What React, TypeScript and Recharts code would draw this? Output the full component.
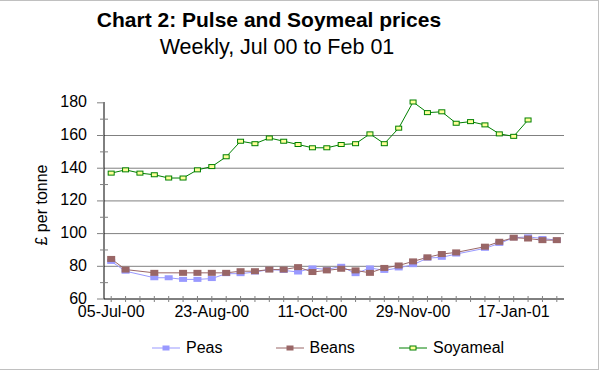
import React from 'react';
import { LineChart, Line, XAxis, YAxis, CartesianGrid } from 'recharts';

const categories = [
  '05-Jul-00', '12-Jul-00', '19-Jul-00', '26-Jul-00', '02-Aug-00', '09-Aug-00', '16-Aug-00',
  '23-Aug-00', '30-Aug-00', '06-Sep-00', '13-Sep-00', '20-Sep-00', '27-Sep-00', '04-Oct-00',
  '11-Oct-00', '18-Oct-00', '25-Oct-00', '01-Nov-00', '08-Nov-00', '15-Nov-00', '22-Nov-00',
  '29-Nov-00', '06-Dec-00', '13-Dec-00', '20-Dec-00', '27-Dec-00', '03-Jan-01', '10-Jan-01',
  '17-Jan-01', '24-Jan-01', '31-Jan-01', '07-Feb-01',
];

const peas: (number | null)[] = [
  83, 77, null, 73, 73, 72, 72, 72.5, 75.5, 75.5, 76.5, 78, 77.5, 76.5, 79, 78,
  80, 75.5, 79, 77.5, 79, 81, 85, 85.5, 87.5, null, 91, 94, 97.5, 98, 97, 96,
];

const beans: (number | null)[] = [
  84.5, 78, null, 76, null, 76, 76, 76, 76, 77, 77, 78, 78, 79.5, 76.5, 77.5,
  78.5, 77.5, 76, 79, 80.5, 83, 85.5, 87.5, 88.5, null, 92, 95, 97.5, 97, 96, 96,
];

const soyameal: (number | null)[] = [
  137, 139, 137, 136, 134, 134, 139, 141, 147, 156.5, 155, 158.5, 156.5, 154.5, 152.5, 152.5,
  154.5, 155, 161, 155, 164.5, 180.5, 174, 174.5, 167.5, 168.5, 166.5, 161, 159.5, 169.5, null, null,
];

const yTicks = [60, 70, 80, 90, 100, 110, 120, 130, 140, 150, 160, 170, 180];
const yLabelTicks = [60, 80, 100, 120, 140, 160, 180];
const gridValues = [80, 100, 120, 140, 160];
const xLabelEvery = 7;

const data = categories.map((date, i) => ({
  date,
  peas: peas[i],
  beans: beans[i],
  soyameal: soyameal[i],
}));

const series = [
  { key: 'peas', name: 'Peas', color: '#9999ff', fill: '#9999ff', border: 'none', w: 8, h: 5, lw: 7, lh: 5 },
  { key: 'beans', name: 'Beans', color: '#996666', fill: '#996666', border: 'none', w: 8, h: 6, lw: 7, lh: 5 },
  { key: 'soyameal', name: 'Soyameal', color: '#008000', fill: '#ffff99', border: '#008000', w: 6, h: 4, lw: 6, lh: 4 },
];

const FONT = '"Liberation Sans", Arial, sans-serif';

const makeDot = (s: any) => (props: any) => {
  const { cx, cy, index } = props;
  if (cx == null || cy == null || props.value == null) return <g key={`d-${s.key}-${index}`} />;
  return (
    <rect
      key={`d-${s.key}-${index}`}
      x={cx - s.w / 2}
      y={cy - s.h / 2}
      width={s.w}
      height={s.h}
      fill={s.fill}
      stroke={s.border === 'none' ? 'none' : s.border}
      strokeWidth={1}
    />
  );
};

const YTick = (props: any) => {
  const { x, y, payload } = props;
  const v = payload.value;
  if (yLabelTicks.includes(v)) {
    return (
      <g>
        <line x1={x - 7} y1={y} x2={x} y2={y} stroke="#808080" />
        <text x={x - 17} y={y + 4.5} textAnchor="end" fontSize={16} fontFamily={FONT} fill="#000">
          {v}
        </text>
      </g>
    );
  }
  return <line x1={x - 4} y1={y} x2={x + 4} y2={y} stroke="#808080" />;
};

const XTick = (props: any) => {
  const { x, y, payload, index } = props;
  return (
    <g>
      <line x1={x} y1={y - 3} x2={x} y2={y + 3} stroke="#808080" />
      {index % xLabelEvery === 0 ? (
        <text x={x} y={y + 18} textAnchor="middle" fontSize={16} fontFamily={FONT} fill="#000">
          {payload.value}
        </text>
      ) : null}
    </g>
  );
};

export default function App() {
  return (
    <div style={{ position: 'absolute', left: 0, top: 0, width: 601, height: 374, background: '#fff', fontFamily: FONT }}>
      <div
        style={{
          position: 'absolute', left: 0, top: 0, width: 599, height: 370, boxSizing: 'border-box',
          borderTop: '1px solid #c0c0c0', borderRight: '1px solid #c0c0c0', borderBottom: '1px solid #c0c0c0',
        }}
      />
      <div style={{ position: 'absolute', left: 0, top: 8, width: 538, textAlign: 'center', fontSize: 21, fontWeight: 'bold', lineHeight: '24px', color: '#000', whiteSpace: 'nowrap' }}>
        Chart 2: Pulse and Soymeal prices
      </div>
      <div style={{ position: 'absolute', left: 0, top: 35, width: 554, textAlign: 'center', fontSize: 21.5, lineHeight: '24px', color: '#000', whiteSpace: 'nowrap' }}>
        Weekly, Jul 00 to Feb 01
      </div>
      <div style={{ position: 'absolute', left: 0, top: 0 }}>
        <LineChart width={601} height={374} data={data} margin={{ top: 102, right: 37, bottom: 45, left: 44 }}>
          <CartesianGrid vertical={false} horizontalValues={gridValues} stroke="#808080" fill="none" />
          <XAxis
            dataKey="date"
            scale="band"
            interval={0}
            tickSize={0}
            tickMargin={0}
            tickLine={false}
            axisLine={{ stroke: '#000' }}
            tick={<XTick />}
            height={30}
          />
          <XAxis xAxisId="top" orientation="top" dataKey="date" scale="band" height={0} tick={false} tickLine={false} axisLine={{ stroke: '#000' }} />
          <YAxis
            domain={[60, 180]}
            ticks={yTicks}
            interval={0}
            tickSize={0}
            tickMargin={0}
            tickLine={false}
            axisLine={{ stroke: '#000' }}
            tick={<YTick />}
            width={60}
          />
          <YAxis yAxisId="right" orientation="right" domain={[60, 180]} width={0} tick={false} tickLine={false} axisLine={{ stroke: '#000' }} />
          {series.map((s) => (
            <Line
              key={s.key}
              dataKey={s.key}
              name={s.name}
              stroke={s.color}
              strokeWidth={1}
              connectNulls
              dot={makeDot(s)}
              activeDot={false}
              isAnimationActive={false}
            />
          ))}
        </LineChart>
      </div>
      <div
        style={{
          position: 'absolute', left: 42, top: 205, transform: 'translate(-50%, -50%) rotate(-90deg)',
          fontSize: 16, whiteSpace: 'nowrap', color: '#000',
        }}
      >
        £ per tonne
      </div>
      {series.map((s, i) => (
        <div key={s.key} style={{ position: 'absolute', left: 152 + i * 123.5, top: 338, height: 20, display: 'flex', alignItems: 'center' }}>
          <svg width={28} height={10} style={{ display: 'block' }}>
            <line x1={0} y1={5} x2={28} y2={5} stroke={s.color} strokeWidth={1} />
            <rect
              x={14 - s.lw / 2}
              y={5 - s.lh / 2}
              width={s.lw}
              height={s.lh}
              fill={s.fill}
              stroke={s.border === 'none' ? 'none' : s.border}
            />
          </svg>
          <span style={{ marginLeft: 6, fontSize: 16, color: '#000' }}>{s.name}</span>
        </div>
      ))}
    </div>
  );
}
